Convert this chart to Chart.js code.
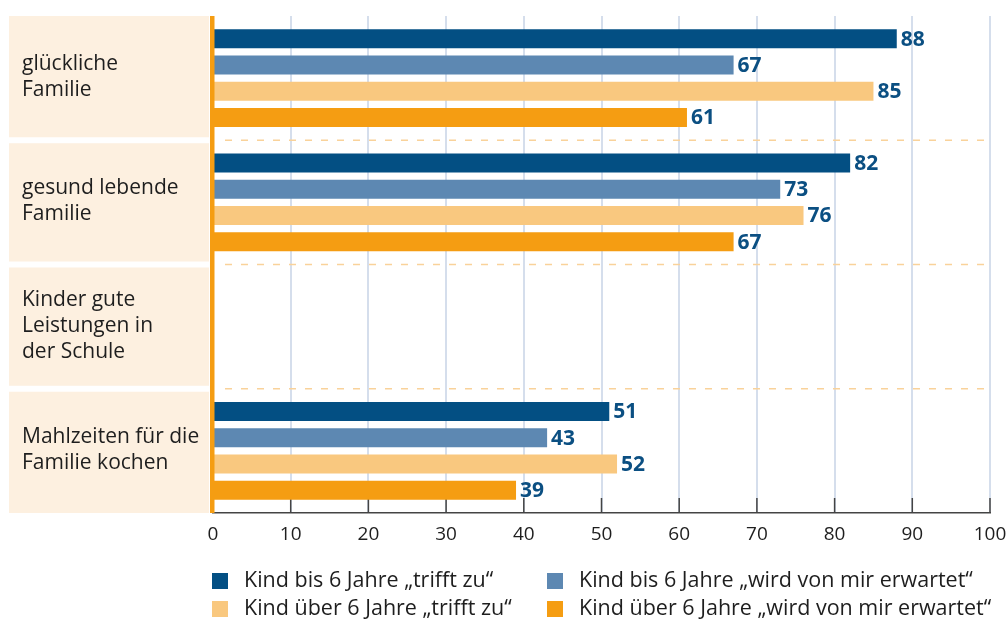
<!DOCTYPE html>
<html lang="de">
<head>
<meta charset="utf-8">
<title>Familie – Erwartungen</title>
<script src="https://cdn.jsdelivr.net/npm/chart.js@4"></script>
<style>
  html, body { margin: 0; padding: 0; background: #fff; }
  canvas { display: block; }
</style>
</head>
<body>
<canvas id="chart" width="1008" height="619"></canvas>
<script>
const categories = [
  ['glückliche', 'Familie'],
  ['gesund lebende', 'Familie'],
  ['Kinder gute', 'Leistungen in', 'der Schule'],
  ['Mahlzeiten für die', 'Familie kochen']
];
const seriesNames = [
  'Kind bis 6 Jahre „trifft zu“',
  'Kind bis 6 Jahre „wird von mir erwartet“',
  'Kind über 6 Jahre „trifft zu“',
  'Kind über 6 Jahre „wird von mir erwartet“'
];
const bisTrifft = [88, 82, null, 51];
const bisErwartet = [67, 73, null, 43];
const ueberTrifft = [85, 76, null, 52];
const ueberErwartet = [61, 67, null, 39];
const xTicks = [0, 10, 20, 30, 40, 50, 60, 70, 80, 90, 100];

const colors = ['#034f83', '#5d88b2', '#f9c87f', '#f59d12'];
const FONT = '"Open Sans", "Noto Sans", sans-serif';

// beige label panel, dashed separators, inner ticks
const framePlugin = {
  id: 'frame',
  beforeDatasetsDraw(chart) {
    const { ctx, chartArea: a, scales: { x, y } } = chart;
    const n = categories.length;
    const band = (a.bottom - a.top) / n;
    ctx.save();
    for (let i = 0; i < n; i++) {
      const top = a.top + i * band + (i ? 3 : 0);
      const bottom = a.top + (i + 1) * band - (i < n - 1 ? 3 : 0);
      ctx.fillStyle = '#fdf0e0';
      ctx.fillRect(9, top, a.left - 4 - 9, bottom - top);

      // category label
      const lines = categories[i];
      const lh = 26;
      const cy = y.getPixelForValue(i);
      ctx.fillStyle = '#1e1e1e';
      ctx.font = '21px ' + FONT;
      ctx.textBaseline = 'middle';
      ctx.textAlign = 'left';
      lines.forEach((t, k) => {
        ctx.fillText(t, 22, cy + (k - (lines.length - 1) / 2) * lh - 1);
      });

      if (i > 0) {
        const sy = a.top + i * band;
        ctx.strokeStyle = '#f9d29a';
        ctx.lineWidth = 1.5;
        ctx.setLineDash([7, 9]);
        ctx.beginPath();
        ctx.moveTo(a.left + 12, sy);
        ctx.lineTo(a.right, sy);
        ctx.stroke();
        ctx.setLineDash([]);
      }
    }
    // short ticks pointing up from the axis
    ctx.strokeStyle = '#444';
    ctx.lineWidth = 1.5;
    xTicks.slice(1).forEach(v => {
      const px = x.getPixelForValue(v);
      ctx.beginPath();
      ctx.moveTo(px, a.bottom - 15);
      ctx.lineTo(px, a.bottom);
      ctx.stroke();
    });
    ctx.restore();
  },
  afterDatasetsDraw(chart) {
    // orange base line at zero
    const { ctx, chartArea: a } = chart;
    ctx.save();
    ctx.fillStyle = '#f59d12';
    ctx.fillRect(a.left - 3, a.top, 4.5, a.bottom - a.top);
    ctx.restore();
  }
};

// value labels at the end of each bar
const valueLabels = {
  id: 'valueLabels',
  afterDatasetsDraw(chart) {
    const { ctx } = chart;
    ctx.save();
    ctx.font = 'bold 21px ' + FONT;
    ctx.fillStyle = '#0b4f82';
    ctx.textBaseline = 'middle';
    ctx.textAlign = 'left';
    chart.data.datasets.forEach((ds, di) => {
      chart.getDatasetMeta(di).data.forEach((bar, i) => {
        if (ds.data[i] == null) return;
        ctx.fillText(ds.data[i], bar.x + 4, bar.y + 1);
      });
    });
    ctx.restore();
  }
};

// two-column legend below the axis
const legendGrid = {
  id: 'legendGrid',
  afterDraw(chart) {
    const { ctx } = chart;
    const colX = [212, 547];
    const rowY = [581, 609];
    ctx.save();
    ctx.font = '21.5px ' + FONT;
    ctx.textBaseline = 'middle';
    ctx.textAlign = 'left';
    chart.data.datasets.forEach((ds, k) => {
      const x0 = colX[k % 2];
      const y0 = rowY[Math.floor(k / 2)];
      ctx.fillStyle = ds.backgroundColor;
      ctx.fillRect(x0, y0 - 8, 16, 16);
      ctx.fillStyle = '#1e1e1e';
      ctx.fillText(ds.label, x0 + 32, y0);
    });
    ctx.restore();
  }
};

const datasets = [bisTrifft, bisErwartet, ueberTrifft, ueberErwartet].map((d, i) => ({
  label: seriesNames[i],
  data: d,
  backgroundColor: colors[i],
  borderWidth: 0,
  categoryPercentage: 0.845,
  barPercentage: 0.73
}));

new Chart(document.getElementById('chart'), {
  type: 'bar',
  data: { labels: categories.map(c => c.join(' ')), datasets },
  options: {
    indexAxis: 'y',
    responsive: false,
    animation: false,
    layout: { padding: { left: 213, right: 18, top: 16, bottom: 74 } },
    plugins: { legend: { display: false }, tooltip: { enabled: false } },
    scales: {
      x: {
        min: 0,
        max: 100,
        afterBuildTicks(scale) { scale.ticks = xTicks.map(v => ({ value: v })); },
        afterFit(scale) {
          scale.height = 32;
          // the "100" label may run into the right margin
          scale.paddingLeft = 0;
          scale.paddingRight = 0;
        },
        grid: { color: '#d5deec', lineWidth: 2, drawTicks: false },
        border: { display: true, color: '#444', width: 1.5 },
        ticks: { color: '#1e1e1e', font: { family: FONT, size: 19 }, padding: 10 }
      },
      y: {
        display: false
      }
    }
  },
  plugins: [framePlugin, valueLabels, legendGrid]
});
</script>
</body>
</html>
